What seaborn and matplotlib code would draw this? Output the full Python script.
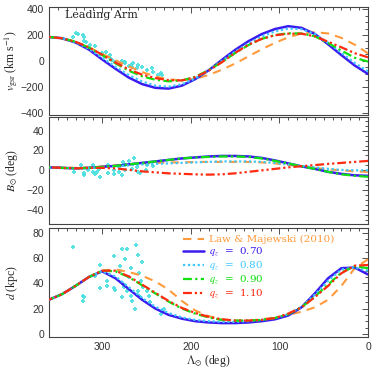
import numpy as np
import pandas as pd
import seaborn as sns
import matplotlib.pyplot as plt
from matplotlib.ticker import MultipleLocator

# longitude grid of the model curves (deg)
lam = [360, 345, 330, 315, 300, 285, 270, 255, 240, 225, 210, 195, 180,
       165, 150, 135, 120, 105, 90, 75, 60, 45, 30, 15, 0]

# v_gsr (km/s)
v_lm10 = [185, 170, 145, 105, 55, 5, -42, -85, -120, -142, -150, -138, -108,
          -68, -20, 35, 90, 140, 182, 212, 222, 212, 178, 125, 59]
v_q070 = [185, 175, 142, 88, 12, -60, -128, -178, -207, -213, -190, -140, -73,
          8, 85, 152, 207, 246, 268, 255, 208, 128, 45, -35, -100]
v_q080 = [185, 175, 145, 95, 25, -45, -108, -158, -190, -198, -180, -135, -72,
          0, 72, 135, 188, 228, 250, 245, 208, 140, 62, -15, -80]
v_q090 = [185, 175, 148, 103, 45, -18, -75, -118, -145, -157, -150, -122, -72,
          -8, 60, 122, 170, 200, 213, 212, 190, 138, 80, 25, -5]
v_q110 = [185, 175, 148, 105, 48, -12, -65, -105, -132, -148, -150, -125, -75,
          -10, 62, 125, 170, 198, 210, 210, 190, 148, 105, 60, 28]

# B (deg)
b_lm10 = [3.5, 3, 2.5, 3, 4, 5, 6, 7, 7.5, 8, 8, 8.5, 8.5,
          8.5, 8.5, 8.5, 8, 7, 5.5, 4, 2.5, 1, 0, -1, -1.5]
b_q070 = [3, 2.5, 2, 2.5, 3.5, 4.5, 6, 7.5, 9, 10.5, 12, 13, 14,
          14.5, 14.5, 14, 12.5, 10, 7, 4, 1.5, -1.5, -3.5, -5, -5.5]
b_q080 = [3, 2.5, 2, 2.5, 3, 4, 5, 6, 6.5, 7, 7.5, 8, 8.5,
          9, 9, 9, 8.5, 7.5, 6, 4.5, 3, 1.5, 0.5, 0, 0]
b_q090 = [3, 2.5, 2, 2.5, 3.5, 4.5, 6, 7.5, 9, 10.5, 12, 13, 13.5,
          14, 14, 13.5, 12, 9.5, 7, 4, 1.5, -1.5, -4, -5.5, -6.5]
b_q110 = [3, 2.5, 2, 2.5, 2.5, 2, 0.5, -1, -2, -3, -3.5, -4, -4.3,
          -4, -3, -1.5, 0, 1.5, 3, 4.2, 5.3, 6.5, 7.5, 8.5, 9.5]

# distance (kpc)
d_lm10 = [27, 31.5, 38, 45, 50, 51, 49, 46, 41.5, 35, 26, 18.5, 14,
          11.5, 10.5, 10.5, 11.5, 13, 15, 17.5, 21, 27, 38, 52, 59]
d_q070 = [27, 31.5, 38, 45, 49.5, 44, 35.5, 27, 20, 15, 12, 10, 9,
          8.5, 8.5, 9, 10, 11.5, 14.5, 21, 32, 44, 52, 52.5, 47]
d_q080 = [27, 31.5, 38, 45, 49.5, 45.5, 37, 28.5, 21.5, 16.5, 13, 11, 10,
          9.5, 9.5, 10, 11, 12.5, 15.5, 21.5, 31, 42, 51, 52.5, 50]
d_q090 = [27, 31.5, 38, 45, 50, 49.5, 45, 38.5, 32, 25.5, 20, 16, 13,
          11, 10.5, 10.5, 11, 12.5, 15.5, 21, 29.5, 39, 48.5, 53.5, 52]
d_q110 = [27, 31.5, 38, 45, 50, 50, 45.5, 39, 32.5, 26, 20.5, 16.5, 13.5,
          11.5, 10.5, 10.5, 11, 12.5, 16, 21, 29, 38, 48, 54, 54.5]

# observed leading arm data
obs_lam_v = [332.5, 329, 327, 322, 321, 321, 323, 318, 314, 308, 313, 300, 296,
             291, 291, 289, 285, 278, 274, 274, 268, 265, 259, 261, 255, 249,
             244, 243, 234, 233, 237, 280, 266, 270]
obs_v = [182, 213, 205, 200, 187, 156, 123, 149, 123, 115, 85, 59, 70,
         46, 21, 8, -5, 2, -18, -5, -31, -18, -31, -56, -44, -69,
         -56, -82, -95, -108, -108, -23, -44, -40]
obs_lam_b = [332, 324, 321, 320, 315.5, 310, 310, 306, 304, 302, 308, 293, 293,
             287, 287, 281.5, 281, 278, 274, 274, 270, 264, 266, 261, 260, 257,
             249, 250, 243, 277]
obs_b = [-1.6, 5, -3, -4.5, 0, 5, -2, -2, 1, -6.7, -3.5, 5, -2.3,
         0, -3.5, 3.3, -1.7, -5, 0, 5, 9, 12.7, 1.7, 3.3, -1.7, -2.3,
         5, 0, 4, 8.3]
obs_lam_d = [332.5, 322, 321, 322, 303, 308, 302, 295, 294, 287, 287, 286, 279.5,
             280, 278, 272, 274, 276, 272, 268, 270, 275, 278, 266, 268, 261.5,
             259, 258, 255, 260, 258, 256, 262.6, 256, 247.5, 246, 249, 234,
             230.6, 254]
obs_d = [68.7, 30, 29.4, 25.7, 54.6, 46, 36, 42, 38, 61.7, 36, 35, 54,
         50, 67, 67, 59, 39.6, 34, 52.4, 45, 37, 28.9, 26, 30, 70,
         62.5, 48, 57, 34, 30, 41.5, 19.7, 28, 30, 25, 34, 15.7,
         19.7, 36.7]

models = ['Law & Majewski (2010)', '$q_z$  =  0.70', '$q_z$  =  0.80',
          '$q_z$  =  0.90', '$q_z$  =  1.10']
colors = ['#ff9a3c', '#3a1cf0', '#3cc8ff', '#10e010', '#ff2a10']
dash_list = [(4, 3), None, (1, 1.2), (4, 1.5, 1, 1.5), (4, 1.3, 1, 1.3, 1, 1.3)]
widths = [1.5, 1.8, 1.6, 1.6, 1.6]

panels = [
    ([v_lm10, v_q070, v_q080, v_q090, v_q110], obs_lam_v, obs_v),
    ([b_lm10, b_q070, b_q080, b_q090, b_q110], obs_lam_b, obs_b),
    ([d_lm10, d_q070, d_q080, d_q090, d_q110], obs_lam_d, obs_d),
]

sns.set_style('white')
plt.rcParams['font.family'] = ['Liberation Sans', 'DejaVu Sans']
plt.rcParams['mathtext.fontset'] = 'stix'

fig = plt.figure(figsize=(3.74, 3.74), dpi=100)
boxes = [[0.131, 0.693, 0.853, 0.288],
         [0.131, 0.401, 0.853, 0.287],
         [0.131, 0.099, 0.853, 0.292]]
axes = [fig.add_axes(b) for b in boxes]

for ax, (curves, ox, oy) in zip(axes, panels):
    sns.scatterplot(x=ox, y=oy, ax=ax, marker='P', s=8, color='#48dede',
                    linewidth=0, alpha=0.9, zorder=2)
    for name, vals, c, ds, lw in zip(models, curves, colors, dash_list, widths):
        df = pd.DataFrame({'lam': lam, 'val': vals})
        sns.lineplot(data=df, x='lam', y='val', ax=ax, color=c, lw=lw,
                     label=name, zorder=3)
        if ds is not None:
            ax.lines[-1].set_dashes(ds)
    ax.get_legend().remove()
    ax.set_xlim(360, 0)
    ax.xaxis.set_major_locator(MultipleLocator(100))
    ax.xaxis.set_minor_locator(MultipleLocator(10))
    ax.tick_params(which='both', direction='in', top=True, right=True,
                   labelsize=7.5, width=0.6, colors='#333333')
    ax.tick_params(which='major', length=4)
    ax.tick_params(which='minor', length=2)
    for s in ax.spines.values():
        s.set_linewidth(0.8)
        s.set_color('#444444')
    ax.set_xlabel('')

# top panel
axes[0].set_ylim(-415, 415)
axes[0].yaxis.set_major_locator(MultipleLocator(200))
axes[0].yaxis.set_minor_locator(MultipleLocator(50))
axes[0].set_ylabel(r'$v_{\rm gsr}$ (km s$^{-1}$)', fontsize=8.5, family='Liberation Serif')
axes[0].set_xticklabels([])
axes[0].text(0.05, 0.9, 'Leading Arm', transform=axes[0].transAxes,
             fontsize=8, family='DejaVu Serif', color='#222222')

# middle panel
axes[1].set_ylim(-54, 54)
axes[1].yaxis.set_major_locator(MultipleLocator(20))
axes[1].yaxis.set_minor_locator(MultipleLocator(5))
axes[1].set_ylabel(r'$B_{\odot}$ (deg)', fontsize=8.5, family='Liberation Serif')
axes[1].set_xticklabels([])

# bottom panel
axes[2].set_ylim(-2.5, 84)
axes[2].yaxis.set_major_locator(MultipleLocator(20))
axes[2].yaxis.set_minor_locator(MultipleLocator(5))
axes[2].set_ylabel(r'$d$ (kpc)', fontsize=8.5, family='Liberation Serif')
axes[2].set_xlabel(r'$\Lambda_{\odot}$ (deg)', fontsize=8.5,
                   family='Liberation Serif', labelpad=1)

for ax in axes:
    ax.yaxis.set_label_coords(-0.09, 0.5)

handles = [l for l in axes[2].lines[-5:]]
leg = axes[2].legend(handles, models, loc='upper left', frameon=False,
                     bbox_to_anchor=(0.40, 0.99), handlelength=2.0,
                     labelspacing=0.1, borderaxespad=0.2, handletextpad=0.5,
                     prop={'family': 'DejaVu Serif', 'size': 7.5})
for txt, c in zip(leg.get_texts(), colors):
    txt.set_color(c)

fig.savefig('out.png', dpi=100)
